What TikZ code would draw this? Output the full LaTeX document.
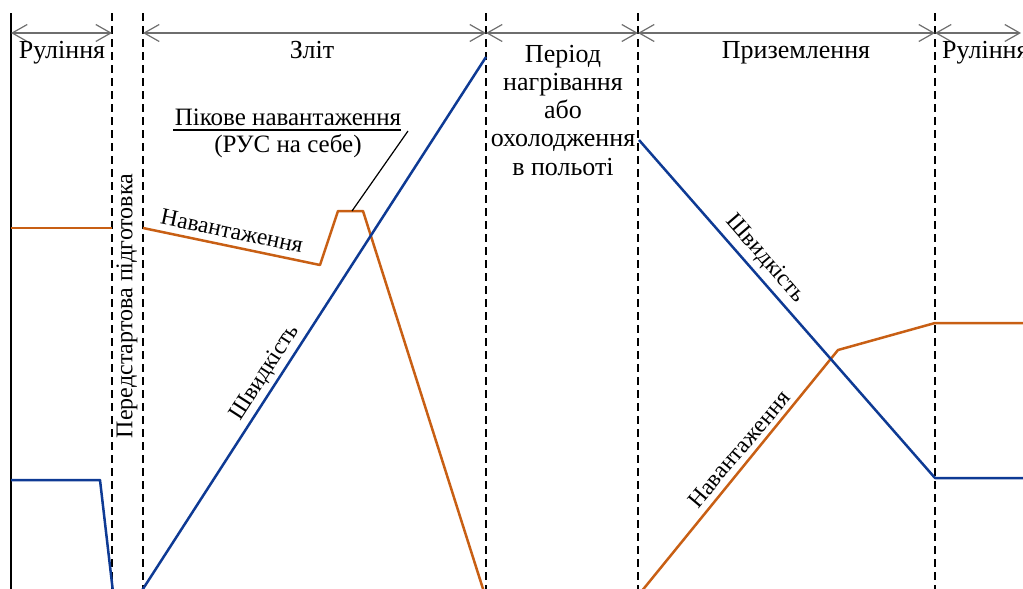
\documentclass[tikz,border=0pt]{standalone}
\usepackage{fontspec}
\setmainfont{Liberation Serif}
\usetikzlibrary{arrows.meta}
\definecolor{myblue}{RGB}{14,58,148}
\definecolor{myorange}{RGB}{200,95,20}
\definecolor{spangray}{RGB}{110,110,110}
\begin{document}
\begin{tikzpicture}[x=1pt,y=-1pt,
 vline/.style={black, line width=2pt, dash pattern=on 8pt off 5pt},
 solidv/.style={black, line width=1.3pt},
 span/.style={{Straight Barb[length=15pt,width=17pt]}-{Straight Barb[length=15pt,width=17pt]}, draw=spangray, line width=1.2pt},
 blueline/.style={draw=myblue, line width=2.5pt, line join=round},
 orangeline/.style={draw=myorange, line width=2.5pt, line join=round},
 lbl/.style={font=\fontsize{26}{30}\selectfont, inner sep=0pt, anchor=base},
 clbl/.style={font=\fontsize{23.5}{28}\selectfont, inner sep=0pt},
]
\useasboundingbox (0,0) rectangle (1023,589);
\clip (0,0) rectangle (1023,589);
% vertical lines
\coordinate (t0) at (11,13);  \coordinate (b0) at (11,592);
\coordinate (t1) at (112,13); \coordinate (b1) at (112,592);
\coordinate (t2) at (143,13); \coordinate (b2) at (143,592);
\coordinate (t3) at (486,13); \coordinate (b3) at (486,592);
\coordinate (t4) at (638,13); \coordinate (b4) at (638,592);
\coordinate (t5) at (935,13); \coordinate (b5) at (935,592);
\draw[solidv] (t0) -- (b0);
\foreach \i in {1,...,5} {\draw[vline] (t\i) -- (b\i);}
% spans
\coordinate (a0) at (11,33);
\coordinate (a1) at (112,33);
\coordinate (a2) at (143,33);
\coordinate (a3) at (486,33);
\coordinate (a4) at (638,33);
\coordinate (a5) at (935,33);
\coordinate (a6) at (1021,33);
\draw[span] (a0) -- (a1);
\draw[span] (a2) -- (a3);
\draw[span] (a3) -- (a4);
\draw[span] (a4) -- (a5);
\draw[span] (a5) -- (a6);
% phase labels
\node[lbl] (ph1) at (62,58) {Руління};
\node[lbl] (ph2) at (312,58) {Зліт};
\node[lbl] (ph3a) at (563,62) {Період};
\node[lbl] (ph3b) at (563,90.25) {нагрівання};
\node[lbl] (ph3c) at (563,118.5) {або};
\node[lbl] (ph3d) at (563,146.75) {охолодження};
\node[lbl] (ph3e) at (563,175) {в польоті};
\node[lbl] (ph4) at (796,58) {Приземлення};
\node[lbl, anchor=base west] (ph5) at (942,58) {Руління};
\node[clbl, rotate=90, font=\fontsize{24}{28}\selectfont] (ph0) at (127,306) {Передстартова підготовка};
% orange curves
\coordinate (o1) at (11,228);
\coordinate (o2) at (112,228);
\coordinate (o3) at (143,228);
\coordinate (o4) at (320,265);
\coordinate (o5) at (338,211);
\coordinate (o6) at (363,211);
\coordinate (o7) at (484,592);
\coordinate (o8) at (641,592);
\coordinate (o9) at (838,350);
\coordinate (o10) at (935,323);
\coordinate (o11) at (1025,323);
\draw[orangeline] (o1) -- (o2);
\draw[orangeline] (o3) -- (o4) -- (o5) -- (o6) -- (o7);
\draw[orangeline] (o8) -- (o9) -- (o10) -- (o11);
% blue curves
\coordinate (u1) at (11,480);
\coordinate (u2) at (100,480);
\coordinate (u3) at (113,592);
\coordinate (u4) at (141,592);
\coordinate (u5) at (486,57);
\coordinate (u6) at (639,140);
\coordinate (u7) at (935,478);
\coordinate (u8) at (1025,478);
\draw[blueline] (u1) -- (u2) -- (u3);
\draw[blueline] (u4) -- (u5);
\draw[blueline] (u6) -- (u7) -- (u8);
% curve labels
\node[clbl, rotate=-11.8] (n1) at (232,231) {Навантаження};
\node[clbl, rotate=57.2] (s1) at (265,373) {Швидкість};
\node[clbl, rotate=-49] (s2) at (765,259) {Швидкість};
\node[clbl, rotate=50] (n2) at (739,449) {Навантаження};
% peak label
\node[lbl, font=\fontsize{25}{30}\selectfont] (pk1) at (288,125) {Пікове навантаження};
\node[lbl, font=\fontsize{25}{30}\selectfont] (pk2) at (288,152) {(РУС на себе)};
\coordinate (ul1) at (173,130);
\coordinate (ul2) at (401,130);
\draw[line width=1.2pt] (ul1) -- (ul2);
\coordinate (ld1) at (408,131);
\coordinate (ld2) at (352,211);
\draw[line width=1.2pt] (ld1) -- (ld2);
\end{tikzpicture}
\end{document}
